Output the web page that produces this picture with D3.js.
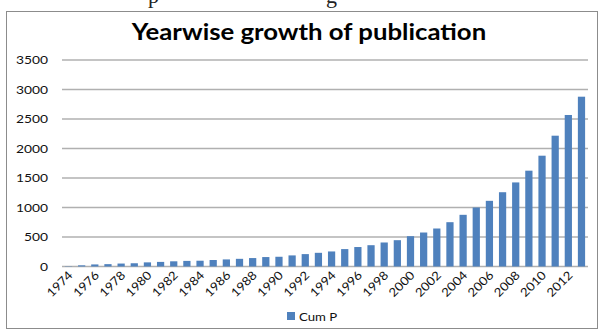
<!DOCTYPE html>
<html>
<head>
<meta charset="utf-8">
<script src="https://cdn.jsdelivr.net/npm/d3@7"></script>
<style>
  body { margin: 0; background: #fff; }
  svg { display: block; }
</style>
</head>
<body>
<div id="chart"></div>
<script>
// data
var years = d3.range(1974, 2014).map(String);
var cumP = [5, 20, 35, 40, 50, 55, 70, 78, 88, 95,
            98, 110, 120, 130, 143, 160, 165, 188, 210, 232,
            255, 295, 330, 361, 407, 446, 514, 576, 644, 751,
            876, 1000, 1113, 1259, 1425, 1624, 1878, 2217, 2568, 2878];
var yTicks = [0, 500, 1000, 1500, 2000, 2500, 3000, 3500];
var xLabels = years.filter(function (d, i) { return i % 2 == 0; });
var seriesName = "Cum P";
var title = "Yearwise growth of publication";

var W = 603, H = 332;
var plotLeft = 62, plotRight = 588, plotTop = 60, plotBottom = 266.5;
var stretch = 1.2; // the source picture is a little wider than tall

var svg = d3.select("#chart")
    .append("svg")
    .attr("width", W)
    .attr("height", H);

svg.append("rect")
    .attr("width", W).attr("height", H)
    .attr("fill", "#fff");

// bits of the page text cut off above the chart
svg.append("g")
    .style("font-family", "'Liberation Serif', serif")
    .style("font-size", "22px")
    .attr("fill", "#222")
    .selectAll("text")
    .data([["p", 148], ["g", 326]])
    .enter()
    .append("text")
    .attr("x", function (d) { return d[1]; })
    .attr("y", 3)
    .text(function (d) { return d[0]; });

// chart frame
svg.append("rect")
    .attr("x", 6.5).attr("y", 11.5)
    .attr("width", 591).attr("height", 317)
    .attr("fill", "#fff")
    .attr("stroke", "#8c8c8c")
    .attr("stroke-width", 1);

var x = d3.scaleBand()
    .domain(years)
    .range([plotLeft, plotRight])
    .paddingInner(0.45)
    .paddingOuter(0.22);

var y = d3.scaleLinear()
    .domain([0, 3500])
    .range([plotBottom, plotTop]);

function widen(sel, k) {
    sel.each(function () {
        var len = this.getComputedTextLength();
        d3.select(this)
            .attr("textLength", len * k)
            .attr("lengthAdjust", "spacingAndGlyphs");
    });
}

// gridlines
svg.append("g")
    .selectAll("line")
    .data(yTicks)
    .enter()
    .append("line")
    .attr("x1", plotLeft).attr("x2", plotRight)
    .attr("y1", function (d) { return y(d); })
    .attr("y2", function (d) { return y(d); })
    .attr("stroke", "#b0b0b0")
    .attr("stroke-width", 1.5);

// y labels
var yl = svg.append("g")
    .style("font-family", "Lato, sans-serif")
    .style("font-size", "11.5px")
    .attr("fill", "#111")
    .selectAll("text")
    .data(yTicks)
    .enter()
    .append("text")
    .attr("x", 48)
    .attr("y", function (d) { return y(d) + 4; })
    .attr("text-anchor", "end")
    .text(function (d) { return d; });
widen(yl, stretch);

// bars
svg.append("g")
    .selectAll("rect")
    .data(cumP)
    .enter()
    .append("rect")
    .attr("x", function (d, i) { return x(years[i]); })
    .attr("y", function (d) { return y(d); })
    .attr("width", x.bandwidth())
    .attr("height", function (d) { return y(0) - y(d); })
    .attr("fill", "#4f81bd");

// x labels, every second year
var xl = svg.append("g")
    .style("font-family", "Lato, sans-serif")
    .style("font-size", "12px")
    .attr("fill", "#111")
    .selectAll("text")
    .data(xLabels)
    .enter()
    .append("text")
    .attr("text-anchor", "end")
    .attr("transform", function (d) {
        var cx = x(d) + x.bandwidth() / 2 + 5;
        return "translate(" + cx + "," + 276 + ") rotate(-45)";
    })
    .text(function (d) { return d; });
widen(xl, 1.1);

// title
var t = svg.append("text")
    .attr("x", 309)
    .attr("y", 40)
    .attr("text-anchor", "middle")
    .style("font-family", "Lato, sans-serif")
    .style("font-weight", "bold")
    .style("font-size", "22px")
    .attr("fill", "#000")
    .text(title);
widen(t, 1.17);

// legend
svg.append("rect")
    .attr("x", 287).attr("y", 312)
    .attr("width", 8).attr("height", 8)
    .attr("fill", "#4f81bd");
var lg = svg.append("text")
    .attr("x", 299).attr("y", 320.5)
    .style("font-family", "Lato, sans-serif")
    .style("font-size", "11px")
    .attr("fill", "#111")
    .text(seriesName);
widen(lg, stretch);
</script>
</body>
</html>
